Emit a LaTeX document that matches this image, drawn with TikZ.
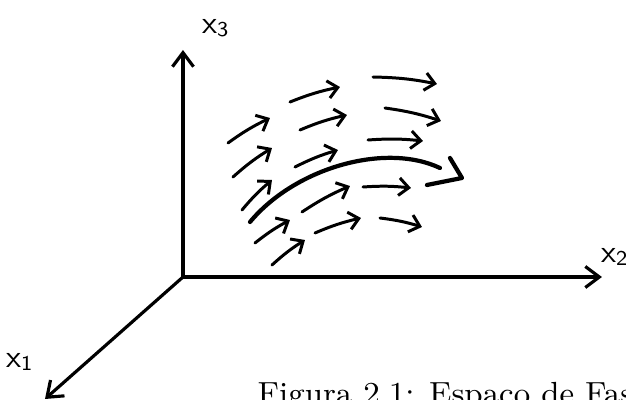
\documentclass[tikz,border=0pt]{standalone}
\usepackage{tikz}
\usetikzlibrary{arrows.meta}
\tikzset{
  axis/.style={line width=0.9pt, line cap=round,
    -{Straight Barb[length=4pt,width=6pt,line width=0.9pt]}},
  flow/.style={line width=0.85pt, line cap=round,
    -{Straight Barb[length=2.8pt,width=5pt,line width=0.85pt]}},
  orbit/.style={line width=1.2pt, line cap=round, line join=round},
  axlabel/.style={font=\fontsize{9}{10}\selectfont, inner sep=0pt}
}

\begin{document}
\begin{tikzpicture}[x=0.01cm, y=-0.01cm]
  \clip (0,0) rectangle (626,400);
  \useasboundingbox (0,0) rectangle (626,400);

  % axes
  \coordinate (O) at (183,277);
  \coordinate (e1) at (45,399);
  \coordinate (e2) at (602,277);
  \coordinate (e3) at (183,50);
  \draw[axis] (O) -- (e3);
  \draw[axis] (O) -- (e2);
  \draw[axis] (O) -- (e1);

  \node[axlabel] (l3) at (216,28) {$\mathsf{x}_{\mathsf{3}}$};
  \node[axlabel] (l2) at (615,257) {$\mathsf{x}_{\mathsf{2}}$};
  \node[axlabel] (l1) at (20,362) {$\mathsf{x}_{\mathsf{1}}$};

  % flow field
  \foreach \ax/\ay/\bx/\by in {373/77/437/84, 290/102/340/87, 385/108/441/121,
      228/143/270/118, 300/130/347/115, 368/140/423/141, 233/177/272/148,
      295/167/338/150, 242/210/272/180, 302/212/350/186, 363/187/411/188,
      255/243/290/220, 315/233/361/218, 380/218/422/227, 272/265/305/240}
    \draw[flow] (\ax,\ay) to[bend left=5] (\bx,\by);

  % trajectory
  \draw[orbit] (250,222) .. controls (295,168) and (385,142) .. (440,168);
  \draw[orbit] (450,158) -- (462,178) -- (427,185);

  \node[anchor=base west, inner sep=0pt, font=\fontsize{9.1}{11}\selectfont]
    (cap) at (257,405) {Figura 2.1: Espaço de Fase};
\end{tikzpicture}
\end{document}
